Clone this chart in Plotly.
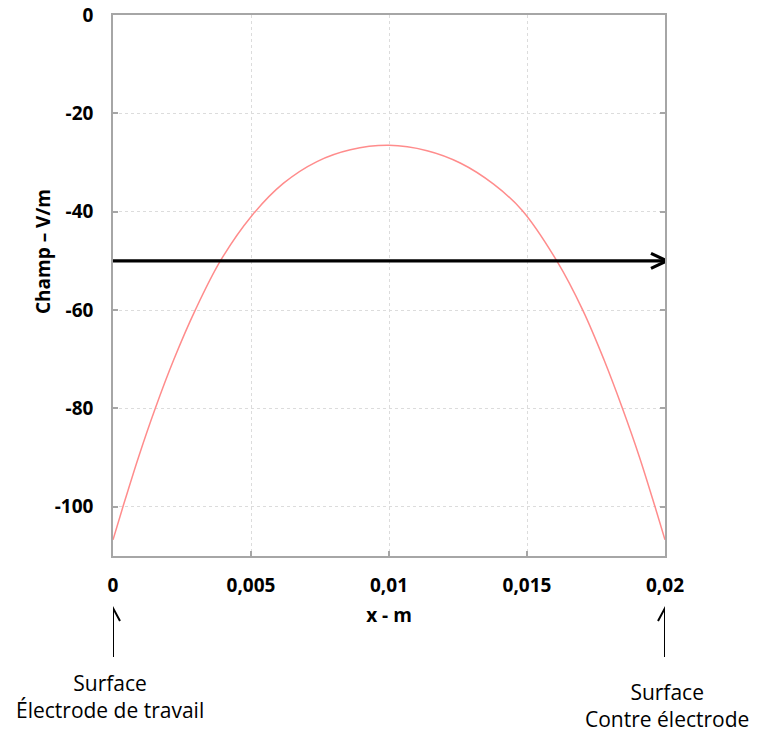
import plotly.graph_objects as go

# ---- data ----
x_m = [0, 0.00036, 0.00093, 0.00153, 0.0022, 0.00298, 0.00389, 0.005, 0.00618,
       0.00739, 0.0086, 0.01, 0.01138, 0.01258, 0.01379, 0.01482, 0.01608,
       0.01702, 0.01779, 0.01846, 0.01907, 0.01964, 0.02]
champ = [-106.7, -100, -89.8, -80, -70.1, -60, -50, -41.0, -34.2,
         -29.8, -27.4, -26.5, -27.6, -30.1, -34.4, -39.7, -50,
         -60, -70.1, -80, -89.8, -100, -106.7]

x_tickvals = [0, 0.005, 0.01, 0.015, 0.02]
x_ticktext = ["0", "0,005", "0,01", "0,015", "0,02"]
y_tickvals = [0, -20, -40, -60, -80, -100]
y_ticktext = ["0", "-20", "-40", "-60", "-80", "-100"]

arrow_level = -50          # horizontal reference arrow
x_start, x_end = 0, 0.02   # electrode surfaces
left_label = "Surface<br>Électrode de travail"
right_label = "Surface<br>Contre électrode"

FONT = "Open Sans"
AXIS_GRAY = "#a6a6a6"

fig = go.Figure()
fig.add_trace(go.Scatter(
    x=x_m, y=champ, mode="lines", line_shape="spline",
    line=dict(color="#ff8c8c", width=1.5, smoothing=1.0),
    showlegend=False, hoverinfo="skip"))

# plot area: x 113..665 px, y 15..556 px
PLOT_W = 665 - 113
PLOT_H = 556 - 15

def py(px):
    return (556 - px) / PLOT_H

def pxp(px):
    return (px - 113) / PLOT_W

shapes = []
# horizontal black arrow at -50
shapes.append(dict(type="line", xref="x", yref="y", x0=x_start, x1=x_end,
                   y0=arrow_level, y1=arrow_level,
                   line=dict(color="black", width=3.2)))
shapes.append(dict(type="path", xref="x", yref="y", xsizemode="pixel", ysizemode="pixel",
                   xanchor=x_end, yanchor=arrow_level,
                   path="M -14,7.5 L 2,0 L -14,-7.5",
                   line=dict(color="black", width=3.2)))
# vertical up arrows below the axis
for xv in (x_start, x_end):
    shapes.append(dict(type="line", xref="x", yref="paper", x0=xv, x1=xv,
                       y0=py(657), y1=py(609), line=dict(color="black", width=2)))
    shapes.append(dict(type="path", xref="x", yref="paper", xsizemode="pixel",
                       ysizemode="pixel", xanchor=xv, yanchor=py(608),
                       path="M -7,-13 L 0,0 L 7,-13",
                       line=dict(color="black", width=2)))

annotations = [
    dict(text="<b>Champ – V/m</b>", xref="paper", yref="paper",
         x=pxp(43), y=py(252), textangle=-90, showarrow=False,
         font=dict(family=FONT, size=19, color="black"),
         xanchor="center", yanchor="middle"),
    dict(text=left_label, xref="paper", yref="paper", x=pxp(110), y=py(696),
         showarrow=False, font=dict(family=FONT, size=21, color="black"),
         xanchor="center", yanchor="middle", align="center"),
    dict(text=right_label, xref="paper", yref="paper", x=pxp(667), y=py(705),
         showarrow=False, font=dict(family=FONT, size=21, color="black"),
         xanchor="center", yanchor="middle", align="center"),
]

fig.update_layout(
    width=758, height=733,
    margin=dict(l=113, r=93, t=15, b=177, autoexpand=False),
    paper_bgcolor="white", plot_bgcolor="white",
    shapes=shapes, annotations=annotations,
    font=dict(family=FONT, color="black"),
    xaxis=dict(range=[0, 0.02], tickvals=x_tickvals, ticktext=x_ticktext,
               automargin=False,
               showgrid=True, gridcolor="#dcdcdc", griddash="dot", gridwidth=1,
               showline=True, linecolor=AXIS_GRAY, linewidth=1.5, mirror=True,
               ticks="inside", ticklen=5, tickcolor=AXIS_GRAY, tickwidth=1.5,
               tickfont=dict(family=FONT, size=19, color="black", weight="bold"),
               ticklabelstandoff=11, zeroline=False,
               title=dict(text="<b>x - m</b>", font=dict(family=FONT, size=19, color="black"),
                          standoff=12)),
    yaxis=dict(range=[-110, 0], tickvals=y_tickvals, ticktext=y_ticktext,
               automargin=False,
               showgrid=True, gridcolor="#dcdcdc", griddash="dot", gridwidth=1,
               showline=True, linecolor=AXIS_GRAY, linewidth=1.5, mirror="ticks",
               ticks="inside", ticklen=5, tickcolor=AXIS_GRAY, tickwidth=1.5,
               tickfont=dict(family=FONT, size=19, color="black", weight="bold"),
               ticklabelstandoff=14, zeroline=False),
)

fig.write_html("out.html", config={"displayModeBar": False},
               post_script="document.body.style.margin='0';document.body.style.overflow='hidden';")
